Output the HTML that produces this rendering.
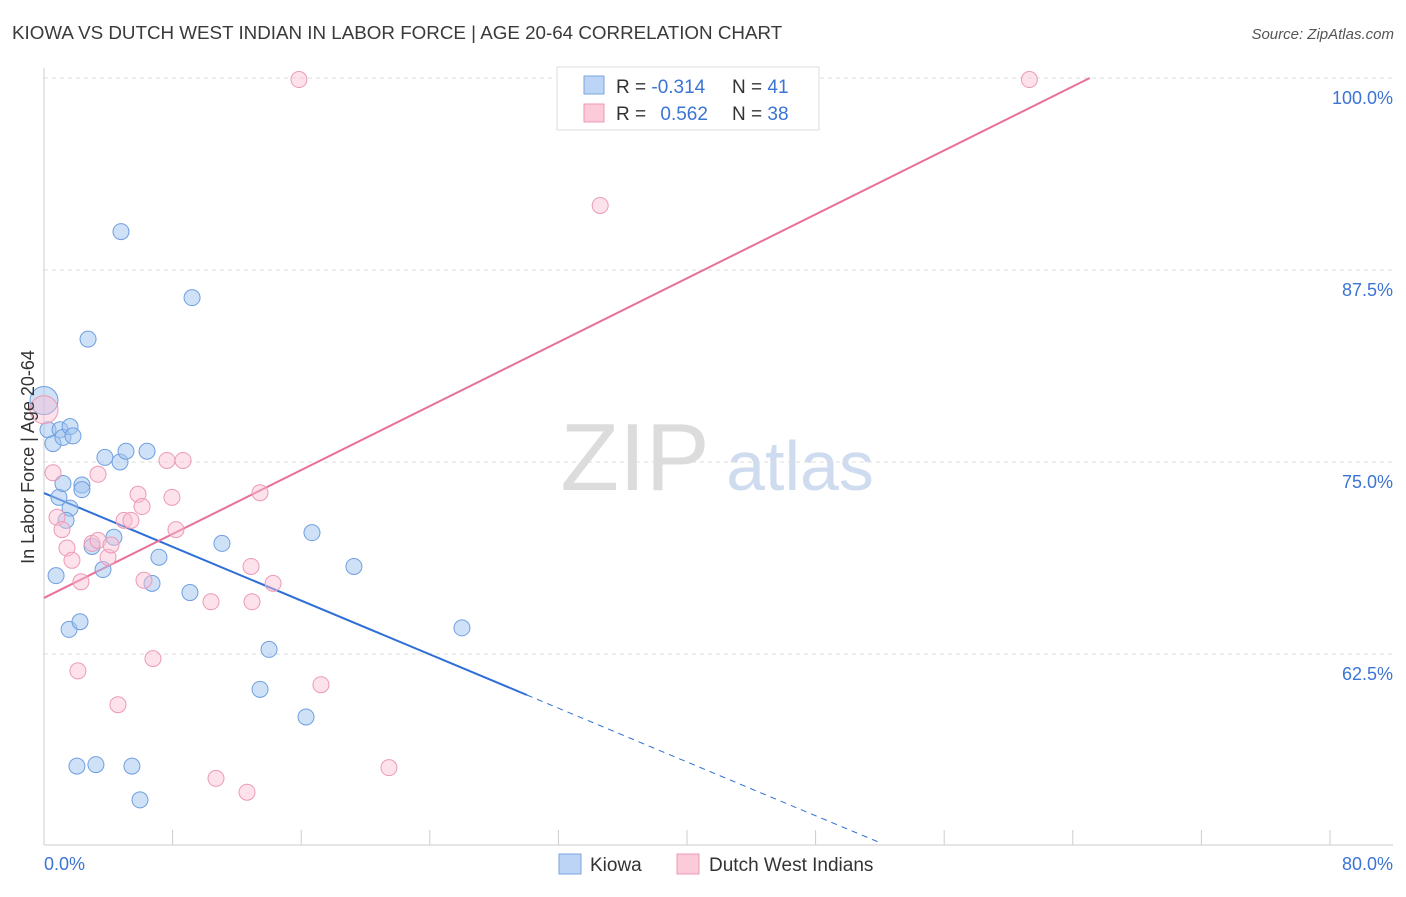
<!DOCTYPE html>
<html><head><meta charset="utf-8"><style>
body{margin:0;background:#fff;font-family:"Liberation Sans",sans-serif}
svg text{font-family:"Liberation Sans",sans-serif}
</style></head><body>
<svg id="chart" width="1406" height="892" viewBox="0 0 1406 892" xmlns="http://www.w3.org/2000/svg">
<text x="12" y="39" font-size="18.8" fill="#3a3a3a">KIOWA VS DUTCH WEST INDIAN IN LABOR FORCE | AGE 20-64 CORRELATION CHART</text>
<text x="1394" y="39" font-size="15" fill="#555" text-anchor="end" font-style="italic">Source: ZipAtlas.com</text>
<g>
<text x="635" y="490" font-size="96" fill="#dcdcdc" text-anchor="middle" font-family="Liberation Serif">ZIP</text>
<text x="800" y="490" font-size="70" fill="#cfdcf0" text-anchor="middle">atlas</text>
</g>
<g id="grid"></g>
<g id="axes"></g>
<g id="lines"></g>
<g id="points"></g>
<text transform="translate(34,457) rotate(-90)" font-size="18" fill="#333" text-anchor="middle">In Labor Force | Age 20-64</text>
<g>
<rect x="557" y="67" width="262" height="63" fill="#fff" stroke="#ddd"/>
<rect x="584" y="76" width="20" height="18" fill="#bcd4f5" stroke="#7aa6e0"/>
<rect x="584" y="104" width="20" height="18" fill="#fbcbd9" stroke="#ee9ab3"/>
<text x="616" y="93" font-size="19" fill="#333">R = <tspan fill="#3b74d4">-0.314</tspan></text>
<text x="732" y="93" font-size="19" fill="#333">N = <tspan fill="#3b74d4">41</tspan></text>
<text x="616" y="120" font-size="19" fill="#333">R = <tspan fill="#3b74d4" dx="9">0.562</tspan></text>
<text x="732" y="120" font-size="19" fill="#333">N = <tspan fill="#3b74d4">38</tspan></text>
</g>
<g>
<rect x="559" y="854" width="22" height="20" fill="#bcd4f5" stroke="#7aa6e0"/>
<text x="590" y="871" font-size="19" fill="#333">Kiowa</text>
<rect x="677" y="854" width="22" height="20" fill="#fbcbd9" stroke="#ee9ab3"/>
<text x="709" y="871" font-size="19" fill="#333">Dutch West Indians</text>
</g>
</svg>
<script>
const yTicks=[100,87.5,75,62.5];
const yTickLabels=["100.0%","87.5%","75.0%","62.5%"];
const xTickLabels=["0.0%","80.0%"];
const kiowaX=[0,0.25,0.56,1.0,1.18,1.62,1.8,0.93,1.18,1.62,1.37,2.36,2.36,3.79,4.73,5.1,6.41,4.79,9.21,2.74,0.75,2.99,4.35,3.67,7.15,6.72,9.08,11.07,16.67,19.28,26.0,1.56,2.24,14.0,13.44,16.3,2.05,3.23,5.47,5.97];
const kiowaY=[79.0,77.1,76.2,77.1,76.6,77.3,76.7,72.7,73.6,72.0,71.2,73.5,73.2,75.3,75.0,75.7,75.7,90.0,85.7,83.0,67.6,69.5,70.1,68.0,68.8,67.1,66.5,69.7,70.4,68.2,64.2,64.1,64.6,62.8,60.2,58.4,55.2,55.3,55.2,53.0];
const dutchX=[0,15.86,61.3,34.6,0.56,0.81,1.12,1.43,1.74,2.3,2.99,3.36,3.98,4.17,3.36,5.85,6.1,4.98,5.41,7.65,8.65,7.96,8.21,13.44,12.88,14.25,12.94,10.39,6.22,6.78,2.11,4.6,17.23,10.7,12.63,21.46];
const dutchY=[78.4,99.9,99.9,91.7,74.3,71.4,70.6,69.4,68.6,67.2,69.7,69.9,68.8,69.6,74.2,72.9,72.1,71.2,71.2,75.1,75.1,72.7,70.6,73.0,68.2,67.1,65.9,65.9,67.3,62.2,61.4,59.2,60.5,54.4,53.5,55.1];
const kiowaLine=[72.98,-0.4377]; // intercept, slope
const dutchLine=[66.15,0.5203];
const NS="http://www.w3.org/2000/svg";
const X=v=>44+v/80*1286, Y=v=>78+(100-v)*15.36;
function mk(t,a,p){const e=document.createElementNS(NS,t);for(const k in a)e.setAttribute(k,a[k]);p.appendChild(e);return e;}
const grid=document.getElementById('grid'),axes=document.getElementById('axes'),lines=document.getElementById('lines'),pts=document.getElementById('points');
[100,...yTicks].forEach((v,i)=>{const l=mk('line',{x1:44,x2:1393,y1:Y(v),y2:Y(v),stroke:'#ddd','stroke-dasharray':'4,4'},grid);

});
yTicks.forEach((v,i)=>{const t=mk('text',{x:1393,y:Y(v)+26,'font-size':18,fill:'#3b74d4','text-anchor':'end'},axes);t.textContent=yTickLabels[i];

});
const ya=mk('line',{x1:44,x2:44,y1:68,y2:845,stroke:'#ccc'},axes);


const xa=mk('line',{x1:44,x2:1393,y1:845,y2:845,stroke:'#ccc'},axes);


for(let i=1;i<=10;i++){const t=mk('line',{x1:X(i*8),x2:X(i*8),y1:830,y2:845,stroke:'#ccc'},axes);

}
[[0,'start',44],[80,'end',1393]].forEach((d,i)=>{const t=mk('text',{x:d[2],y:870,'font-size':18,fill:'#3b74d4','text-anchor':d[1]},axes);t.textContent=xTickLabels[i];

});
const bEnd=30.04,bDash=52.0;
const b1=mk('line',{x1:X(0),y1:Y(kiowaLine[0]),x2:X(bEnd),y2:Y(kiowaLine[0]+kiowaLine[1]*bEnd),stroke:'#2f6fd6','stroke-width':2},lines);


const b2=mk('line',{x1:X(bEnd),y1:Y(kiowaLine[0]+kiowaLine[1]*bEnd),x2:X(bDash),y2:Y(kiowaLine[0]+kiowaLine[1]*bDash),stroke:'#2f6fd6','stroke-width':1,'stroke-dasharray':'6,5'},lines);


const pEnd=(100-dutchLine[0])/dutchLine[1];
const p1=mk('line',{x1:X(0),y1:Y(dutchLine[0]),x2:X(pEnd),y2:Y(100),stroke:'#e8709a','stroke-width':2},lines);


kiowaX.forEach((x,i)=>{const c=mk('circle',{cx:X(x),cy:Y(kiowaY[i]),r:i==0?14:8,fill:'rgba(160,195,240,0.5)',stroke:'#6f9fe0','stroke-width':1},pts);

});
dutchX.forEach((x,i)=>{const c=mk('circle',{cx:X(x),cy:Y(dutchY[i]),r:i==0?14:8,fill:'rgba(250,190,210,0.45)',stroke:'#ec9ab5','stroke-width':1},pts);

});
</script>
</body></html>
